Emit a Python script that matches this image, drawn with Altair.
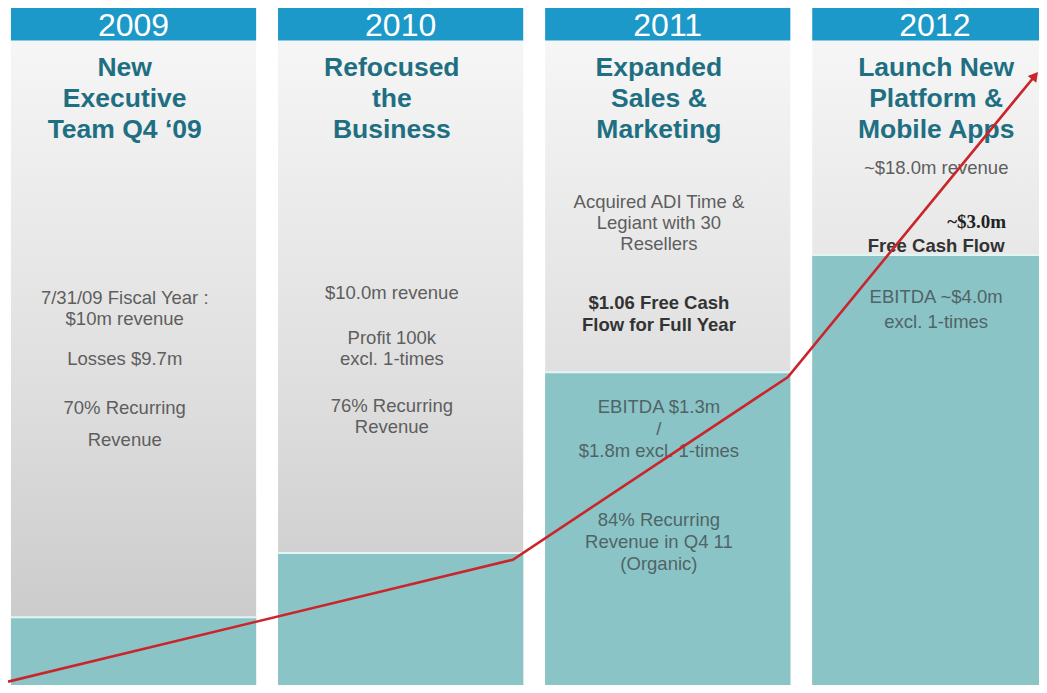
import altair as alt
import pandas as pd

# ---- data -------------------------------------------------------------
years = [2009, 2010, 2011, 2012]
year_labels = ["2009", "2010", "2011", "2012"]
titles = [
    ["New", "Executive", "Team Q4 \u201809"],
    ["Refocused", "the", "Business"],
    ["Expanded", "Sales &", "Marketing"],
    ["Launch New", "Platform &", "Mobile Apps"],
]
teal_level = [10.0, 19.5, 46.2, 63.5]      # height of the teal block (0-100 index)
column_top = 95.2
header_top = 100.0
header_level = 97.3
title_level = 91.2

# growth arrow
line_x = [2008.53, 2010.42, 2011.45, 2012.375]
line_y = [0.5, 18.5, 45.5, 90.0]

# notes in each column (level of first line)
notes_year = [2009, 2009, 2009, 2009,
              2010, 2010, 2010,
              2011, 2011, 2011, 2011,
              2012, 2012, 2012, 2012]
notes_y = [57.2, 48.1, 40.9, 36.2,
           57.9, 51.3, 41.2,
           71.3, 56.4, 41.1, 24.4,
           76.4, 68.4, 64.8, 57.3]
notes_text = [
    ["7/31/09 Fiscal Year :", "$10m revenue"], ["Losses $9.7m"], ["70% Recurring"], ["Revenue"],
    ["$10.0m revenue"], ["Profit 100k", "excl. 1-times"], ["76% Recurring", "Revenue"],
    ["Acquired ADI Time &", "Legiant with 30", "Resellers"],
    ["$1.06 Free Cash", "Flow for Full Year"],
    ["EBITDA  $1.3m", "/", "$1.8m excl. 1-times"],
    ["84% Recurring", "Revenue  in Q4 11", "(Organic)"],
    ["~$18.0m revenue"], ["~$3.0m"], ["Free Cash Flow"], ["EBITDA  ~$4.0m", "excl. 1-times"],
]
notes_kind = ["body", "body", "body", "body",
              "body", "body", "body",
              "body", "bold", "teal", "teal",
              "body", "serif", "bold", "teal2"]

# ---- tables -------------------------------------------------------------
cols = pd.DataFrame({
    "year": years,
    "label": year_labels,
    "title": titles,
    "teal": teal_level,
    "ctop": [column_top] * 4,
    "htop": [header_top] * 4,
    "hmid": [header_level] * 4,
    "tmid": [title_level] * 4,
})
line_df = pd.DataFrame({"x": line_x, "y": line_y})
arrow_df = line_df.tail(1)
notes = pd.DataFrame({"year": notes_year, "y": notes_y, "text": notes_text, "kind": notes_kind})

X = alt.Scale(domain=[2008.53, 2012.39], nice=False, zero=False)
Y = alt.Scale(domain=[0, 100], nice=False, zero=False)
HALF = 0.459
FONT = "Liberation Sans"
text_x = alt.expr.if_(alt.datum.year == 2012, alt.datum.year + 0.005, alt.datum.year - 0.033)

base = alt.Chart(cols).transform_calculate(
    x0=alt.datum.year - HALF, x1=alt.datum.year + HALF, tx=text_x
)

gray = base.mark_rect(
    clip=True,
    color=alt.Gradient(
        gradient="linear", x1=0, y1=0, x2=0, y2=1,
        stops=[alt.GradientStop(color="#f6f6f6", offset=0),
               alt.GradientStop(color="#dedede", offset=0.55),
               alt.GradientStop(color="#c6c6c6", offset=1)],
    ),
).encode(
    x=alt.X("x0:Q", scale=X, axis=None), x2="x1:Q",
    y=alt.Y("ctop:Q", scale=Y, axis=None), y2=alt.datum(0),
)

teal = base.mark_rect(clip=True, color="#8bc4c7").encode(
    x=alt.X("x0:Q", scale=X, axis=None), x2="x1:Q",
    y=alt.Y("teal:Q", scale=Y, axis=None), y2=alt.datum(0),
)
teal_edge = base.mark_rule(clip=True, color="#e2f5f5", strokeWidth=2).encode(
    x=alt.X("x0:Q", scale=X, axis=None), x2="x1:Q",
    y=alt.Y("teal:Q", scale=Y, axis=None),
)

header = base.mark_rect(clip=True, color="#1c98c9").encode(
    x=alt.X("x0:Q", scale=X, axis=None), x2="x1:Q",
    y=alt.Y("htop:Q", scale=Y, axis=None), y2="ctop:Q",
)
header_text = base.mark_text(font=FONT, fontSize=32, color="white", baseline="middle").encode(
    x=alt.X("year:Q", scale=X, axis=None),
    y=alt.Y("hmid:Q", scale=Y, axis=None),
    text="label:N",
)
title_text = base.mark_text(font=FONT, fontSize=26.5, fontWeight="bold", color="#1f6f82",
                            baseline="middle", lineHeight=31).encode(
    x=alt.X("tx:Q", scale=X, axis=None),
    y=alt.Y("tmid:Q", scale=Y, axis=None),
    text="title",
)

nbase = alt.Chart(notes).transform_calculate(tx=text_x)


def note_layer(kind, **style):
    return nbase.transform_filter(alt.datum.kind == kind).mark_text(
        font=style.pop("font", FONT), baseline="middle", **style
    ).encode(
        x=alt.X("tx:Q", scale=X, axis=None),
        y=alt.Y("y:Q", scale=Y, axis=None),
        text="text",
    )


body = note_layer("body", fontSize=18.5, color="#5e5e5e", lineHeight=21)
bold = note_layer("bold", fontSize=18.5, fontWeight="bold", color="#333333", lineHeight=22)
tealtxt = note_layer("teal", fontSize=18.5, color="#4f6466", lineHeight=22)
tealtxt2 = note_layer("teal2", fontSize=18.5, color="#4f6466", lineHeight=25)
serif = note_layer("serif", font="Liberation Serif", fontSize=19, fontWeight="bold",
                   color="#222222", align="right", dx=70)

line = alt.Chart(line_df).mark_line(color="#c9252b", strokeWidth=2.6).encode(
    x=alt.X("x:Q", scale=X, axis=None),
    y=alt.Y("y:Q", scale=Y, axis=None),
)
arrow = alt.Chart(arrow_df).mark_point(
    shape="triangle-up", filled=True, color="#c9252b", size=120, angle=39, opacity=1
).encode(
    x=alt.X("x:Q", scale=X, axis=None),
    y=alt.Y("y:Q", scale=Y, axis=None),
)

chart = alt.layer(
    gray, teal, teal_edge, header, header_text, title_text,
    body, bold, tealtxt, tealtxt2, serif, line, arrow,
).properties(
    width=1031, height=677,
    autosize=alt.AutoSizeParams(type="none"),
    padding=0,
    background="white",
).configure_view(stroke=None)

chart.save("out.html", embed_options={"renderer": "svg", "actions": False})
